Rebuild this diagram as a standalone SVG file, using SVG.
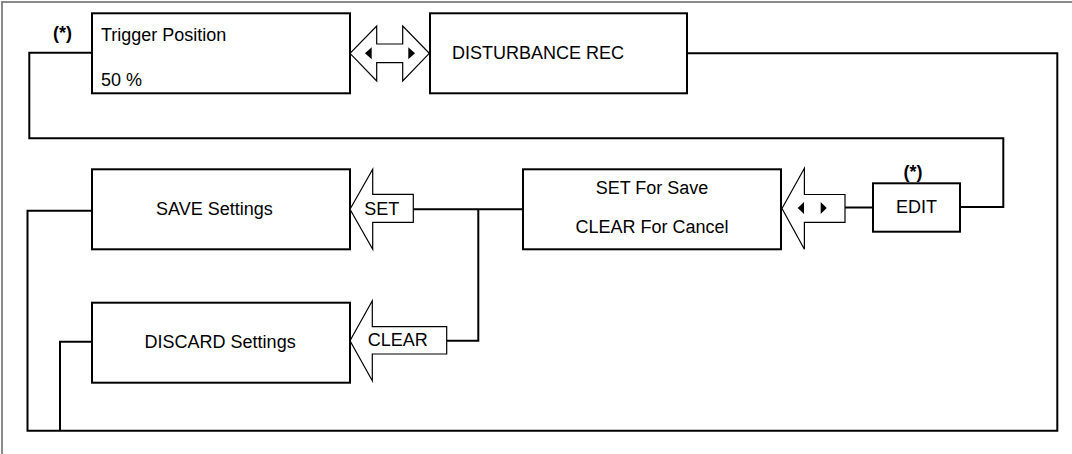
<svg xmlns="http://www.w3.org/2000/svg" width="1072" height="454" viewBox="0 0 1072 454">
<style>
.box{fill:#fff;stroke:#000;stroke-width:2}
.arr{fill:#fff;stroke:#000;stroke-width:1.2;stroke-linejoin:miter}
.tri{fill:#000;stroke:none}
.con{fill:none;stroke:#000;stroke-width:2}
.frame{fill:none;stroke:#8a8a8a;stroke-width:2}
text{font-family:"Liberation Sans",Arial,sans-serif;font-size:18px;fill:#000}
.b{font-weight:bold}
.m{text-anchor:middle}
</style>
<rect width="1072" height="454" fill="#fff"/>
<path class="frame" d="M2,454 V2 H1072"/>
<g id="connectors">
<path class="con" d="M92,52.7 H29.3 V138.3 H1003.3 V207 H960"/>
<path class="con" d="M687,53.3 H1057.3 V430.7 H27.5 V210.7 H92"/>
<path class="con" d="M92,341.7 H60 V430.7"/>
<path class="con" d="M413.3,209.3 H523"/>
<path class="con" d="M478.3,209.3 V340.7 H446.7"/>
<path class="con" d="M845,207.5 H873"/>
</g>
<g id="trigger">
<rect class="box" x="92" y="13.3" width="258" height="80"/>
<text x="101" y="41">Trigger Position</text>
<text x="101" y="86">50 %</text>
<text class="b m" x="62.5" y="39">(*)</text>
</g>
<g id="nav-arrow">
<polygon class="arr" points="350,53.3 376.7,26 376.7,44 402.7,44 402.7,26 429.3,53.3 402.7,81 402.7,62.7 376.7,62.7 376.7,81"/>
<polygon class="tri" points="365,53.3 371.7,47.3 371.7,59.3"/>
<polygon class="tri" points="415,53.3 408.3,47.3 408.3,59.3"/>
</g>
<g id="disturbance">
<rect class="box" x="430" y="13.3" width="257" height="80"/>
<text x="452" y="59">DISTURBANCE REC</text>
</g>
<g id="save">
<rect class="box" x="92" y="169.3" width="258" height="80"/>
<text x="156" y="215">SAVE Settings</text>
</g>
<g id="set-arrow">
<polygon class="arr" points="350,209.3 372.7,169.3 372.7,194.3 413.3,194.3 413.3,222.3 372.7,222.3 372.7,249.3"/>
<text x="364.3" y="215">SET</text>
</g>
<g id="confirm">
<rect class="box" x="523" y="169.3" width="258" height="80"/>
<text class="m" x="652" y="194">SET For Save</text>
<text class="m" x="652" y="233.3">CLEAR For Cancel</text>
</g>
<g id="lr-arrow">
<polygon class="arr" points="782,208.5 804.4,168.3 804.4,194.5 845,194.5 845,222.3 804.4,222.3 804.4,249.3"/>
<polygon class="tri" points="797.7,208 804,202 804,214"/>
<polygon class="tri" points="826.7,208 820.7,202 820.7,214"/>
</g>
<g id="edit">
<rect class="box" x="873" y="183.3" width="87" height="48.4"/>
<text class="m" x="916.5" y="213.3">EDIT</text>
<text class="b m" x="913" y="178.3">(*)</text>
</g>
<g id="clear-arrow">
<polygon class="arr" points="350,340.7 372.3,300.7 372.3,326.7 446.7,326.7 446.7,354 372.3,354 372.3,380.7"/>
<text x="367.7" y="345.7">CLEAR</text>
</g>
<g id="discard">
<rect class="box" x="92" y="302.7" width="258" height="80"/>
<text x="144.6" y="348.3">DISCARD Settings</text>
</g>
</svg>
